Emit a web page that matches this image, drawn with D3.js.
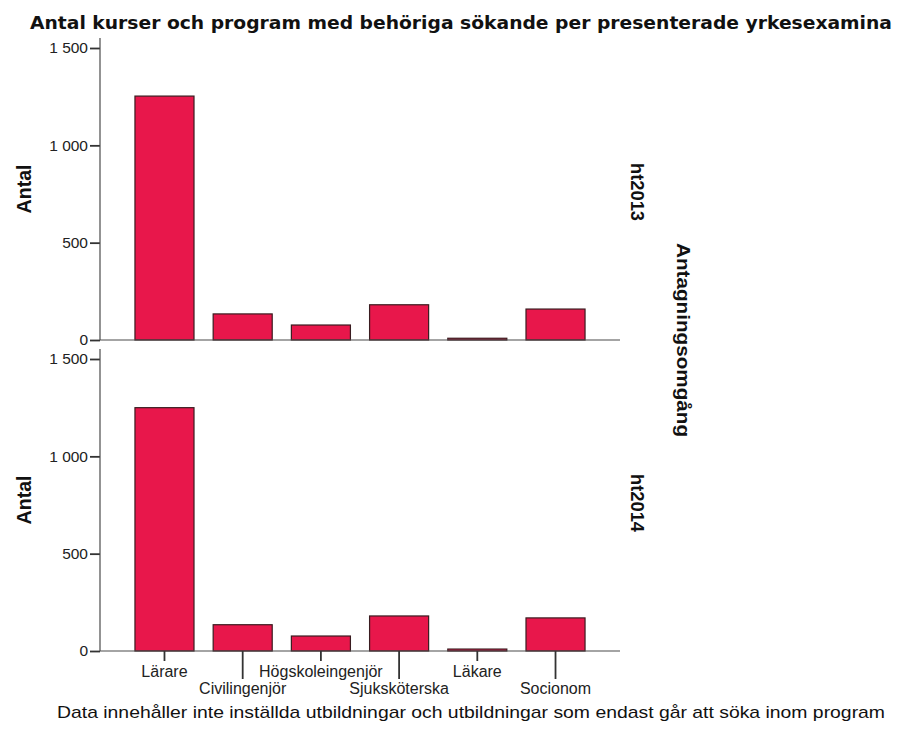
<!DOCTYPE html>
<html><head><meta charset="utf-8">
<script src="https://cdn.jsdelivr.net/npm/d3@7"></script>
<style>html,body{margin:0;padding:0;background:#fff;}svg{display:block;}</style>
</head><body>
<svg id="chart" width="897" height="738"></svg>
<script>
const categories = ["Lärare","Civilingenjör","Högskoleingenjör","Sjuksköterska","Läkare","Socionom"];
const panels = ["ht2013","ht2014"];
const values_ht2013 = [1253, 134, 77, 181, 9, 159];
const values_ht2014 = [1250, 135, 77, 180, 10, 170];
const yTicks = [0, 500, 1000, 1500];
const title = "Antal kurser och program med behöriga sökande per presenterade yrkesexamina";
const footer = "Data innehåller inte inställda utbildningar och utbildningar som endast går att söka inom program";
const yLabel = "Antal";
const facetLabel = "Antagningsomgång";

const svg = d3.select("#chart");
const axisColor = "#4a4a4a";
const barFill = "#e8174b";
const barStroke = "#3a1c20";
const font = "'Liberation Sans', Arial, sans-serif";

const x = d3.scaleBand().domain(categories).range([100, 620]).paddingInner(0.245).paddingOuter(0.447);
const panelDefs = [
  {name: panels[0], values: values_ht2013, top: 48, bottom: 340, axisTop: 38},
  {name: panels[1], values: values_ht2014, top: 359, bottom: 651, axisTop: 349}
];
const fmt = v => d3.format(",")(v).replace(/,/g, "\u00a0");

panelDefs.forEach(p => {
  const y = d3.scaleLinear().domain([0, 1500]).range([p.bottom, p.top]);
  const g = svg.append("g");
  g.selectAll("rect").data(categories.map((c,i)=>({c, v:p.values[i]}))).join("rect")
    .attr("x", d => x(d.c)).attr("width", x.bandwidth())
    .attr("y", d => y(d.v)).attr("height", d => y(0) - y(d.v))
    .attr("fill", barFill).attr("stroke", barStroke).attr("stroke-width", 1.2);
  const ax = g.append("g").attr("transform", "translate(100,0)")
    .call(d3.axisLeft(y).tickValues(yTicks).tickSize(10).tickSizeOuter(0).tickFormat(fmt));
  ax.select(".domain").remove();
  ax.selectAll(".tick line").attr("stroke", "#333").attr("stroke-width", 1.8);
  ax.selectAll(".tick text").attr("x", -12).attr("font-family", font).attr("font-size", 15.5).attr("fill", "#222");
  g.append("line").attr("x1", 100).attr("x2", 100).attr("y1", p.axisTop).attr("y2", p.bottom)
    .attr("stroke", axisColor).attr("stroke-width", 1.2);
  g.append("line").attr("x1", 100).attr("x2", 620).attr("y1", p.bottom).attr("y2", p.bottom)
    .attr("stroke", axisColor).attr("stroke-width", 1.2);
  g.append("text").attr("transform", `translate(31,${(p.top + p.bottom)/2 - 5}) rotate(-90)`)
    .attr("text-anchor", "middle").attr("font-family", font).attr("font-weight", "bold")
    .attr("font-size", 20).attr("fill", "#111")
    .attr("textLength", 49).attr("lengthAdjust", "spacingAndGlyphs").text(yLabel);
  g.append("text").attr("transform", `translate(631,${(p.top + p.bottom)/2 - 2}) rotate(90)`)
    .attr("text-anchor", "middle").attr("font-family", font).attr("font-weight", "bold")
    .attr("font-size", 19).attr("fill", "#111")
    .attr("textLength", 58).attr("lengthAdjust", "spacingAndGlyphs").text(p.name);
});

const xg = svg.append("g");
categories.forEach((c, i) => {
  const cx = x(c) + x.bandwidth()/2;
  const long = i % 2 === 1;
  xg.append("line").attr("x1", cx).attr("x2", cx).attr("y1", 651).attr("y2", long ? 679 : 661)
    .attr("stroke", "#333").attr("stroke-width", 1.8);
  xg.append("text").attr("x", cx).attr("y", long ? 694 : 677).attr("text-anchor", "middle")
    .attr("font-family", font).attr("font-size", 16).attr("fill", "#222").text(c);
});

svg.append("text").attr("transform", "translate(677,340) rotate(90)")
  .attr("text-anchor", "middle").attr("font-family", font).attr("font-weight", "bold")
  .attr("font-size", 19).attr("fill", "#111")
  .attr("textLength", 194).attr("lengthAdjust", "spacingAndGlyphs").text(facetLabel);

svg.append("text").attr("x", 30).attr("y", 29)
  .attr("font-family", "'DejaVu Sans', Verdana, sans-serif").attr("font-weight", "bold")
  .attr("font-size", 17).attr("fill", "#111")
  .attr("textLength", 862).attr("lengthAdjust", "spacingAndGlyphs").text(title);

svg.append("text").attr("x", 57).attr("y", 718)
  .attr("font-family", font).attr("font-size", 17).attr("fill", "#111")
  .attr("textLength", 828).attr("lengthAdjust", "spacingAndGlyphs").text(footer);
</script>
</body></html>
